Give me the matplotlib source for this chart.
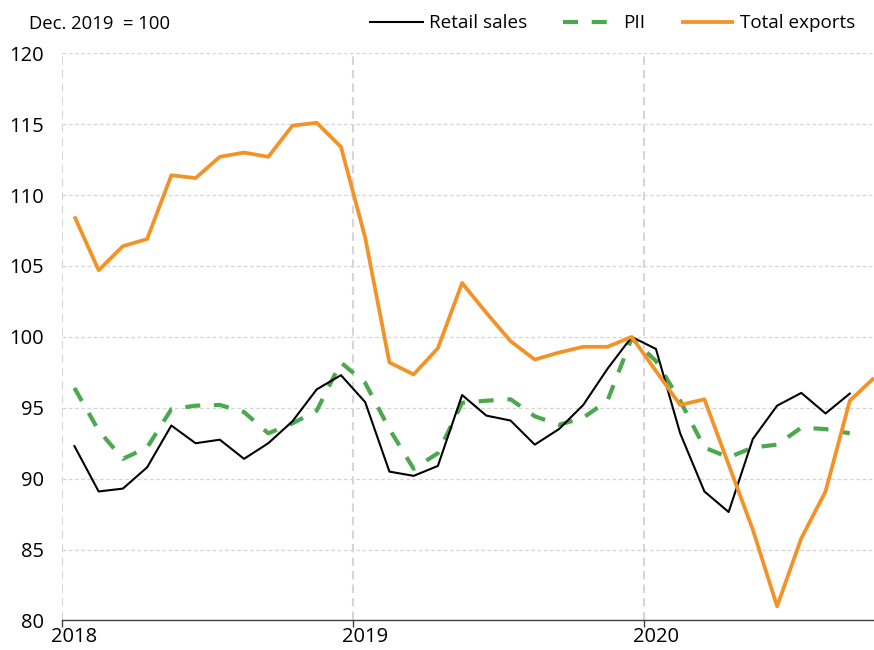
import numpy as np
import matplotlib
matplotlib.use("Agg")
import matplotlib.pyplot as plt

plt.rcParams['font.family'] = ['Open Sans', 'DejaVu Sans']

# monthly index, Dec. 2019 = 100 (Jan 2018 onwards)
years = ["2018", "2019", "2020"]

retail = [92.3, 89.1, 89.3, 90.8, 93.75, 92.5, 92.75, 91.4, 92.5, 94.05, 96.3, 97.3,
          95.4, 90.5, 90.2, 90.9, 95.9, 94.45, 94.1, 92.4, 93.5, 95.2, 97.75, 100.0,
          99.15, 93.2, 89.1, 87.65, 92.8, 95.15, 96.05, 94.6, 96.0]

pii = [96.4, 93.4, 91.4, 92.2, 94.9, 95.15, 95.2, 94.7, 93.2, 93.9, 94.8, 98.2,
       96.75, 93.5, 90.7, 91.8, 95.35, 95.5, 95.6, 94.4, 93.8, 94.3, 95.5, 99.9,
       98.3, 95.5, 92.2, 91.5, 92.2, 92.4, 93.6, 93.5, 93.2]

exports = [108.5, 104.7, 106.4, 106.9, 111.4, 111.2, 112.7, 113.0, 112.7, 114.9, 115.1, 113.4,
           107.0, 98.2, 97.35, 99.2, 103.8, 101.7, 99.7, 98.4, 98.9, 99.3, 99.3, 100.0,
           97.6, 95.2, 95.6, 91.0, 86.4, 81.0, 85.8, 89.1, 95.5, 97.1]

fig = plt.figure(figsize=(8.74, 6.5), dpi=100)
ax = fig.add_axes([0.0713, 0.0454, 0.9287, 0.8726])

x_r = np.arange(len(retail)) + 0.5
x_p = np.arange(len(pii)) + 0.5
x_e = np.arange(len(exports)) + 0.5

ax.plot(x_r, retail, color='black', lw=1.5, label='Retail sales', zorder=4)
ax.plot(x_p, pii, color='#4ca84f', lw=3, ls=(0, (3.6, 3.3)), label='PII', zorder=3)
ax.plot(x_e, exports, color='#f39226', lw=2.7, label='Total exports', zorder=5,
        solid_capstyle='butt')

ax.set_xlim(0, 33.5)
ax.set_ylim(80, 120)
ax.set_yticks(range(80, 121, 5))

year_pos = [12 * i for i in range(len(years))]
ax.set_xticks(year_pos)
ax.set_xticklabels([])
ax.set_xticks([p + 0.5 for p in year_pos], minor=True)
ax.set_xticklabels(years, minor=True)
ax.tick_params(axis='x', which='major', length=5, width=1, color='#404040', direction='out')
ax.tick_params(axis='x', which='minor', length=0, pad=5, labelsize=14.5)
ax.tick_params(axis='y', length=0, pad=13, labelsize=14.5)

ax.grid(axis='y', color='#d6d6d6', ls=(0, (3, 2)), lw=0.9)
ax.grid(axis='x', which='major', color='#d6d6d6', ls=(0, (4, 2.5)), lw=1.5)
ax.set_axisbelow(True)

for s in ['top', 'right', 'left']:
    ax.spines[s].set_visible(False)
ax.spines['bottom'].set_color('#404040')
ax.spines['bottom'].set_linewidth(1)

fig.text(0.033, 0.963, 'Dec. 2019  = 100', fontsize=13.3, va='center', ha='left')

leg = fig.legend(loc='center', bbox_to_anchor=(0.701, 0.964), ncol=3, frameon=False,
                 fontsize=13.6, handlelength=2.8, handletextpad=0.35, columnspacing=1.9,
                 borderaxespad=0)

fig.savefig('out.png', dpi=100)
